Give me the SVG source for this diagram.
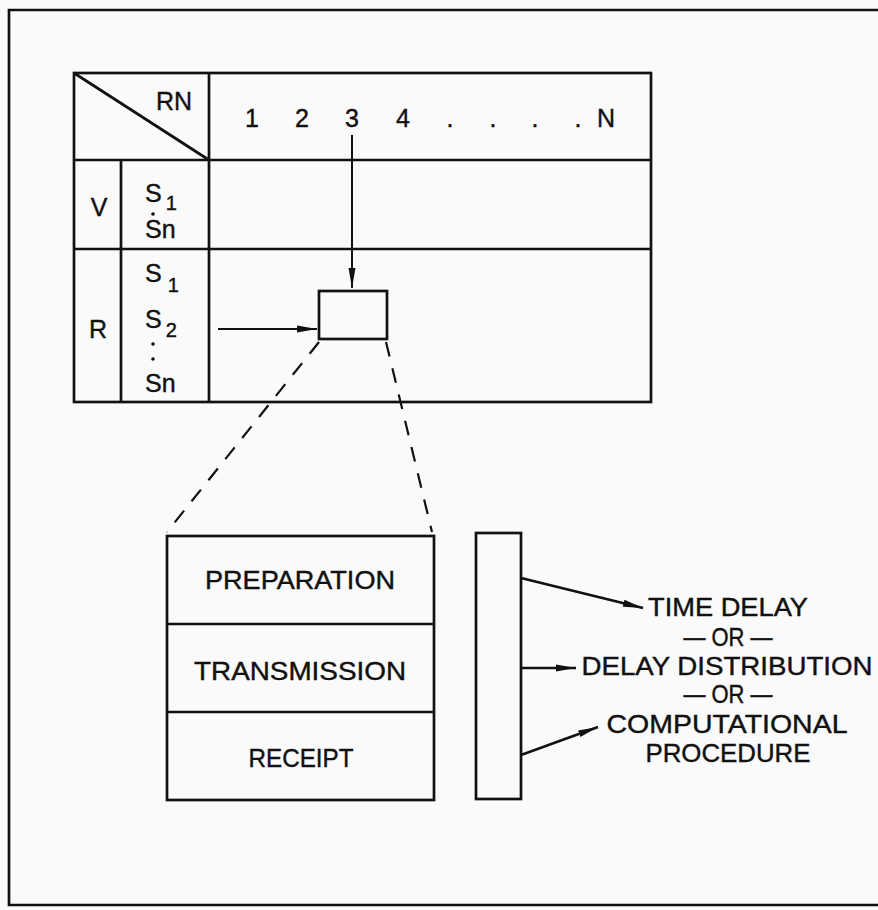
<svg xmlns="http://www.w3.org/2000/svg" width="878" height="910" viewBox="0 0 878 910">
<defs>
<style>
.ln{stroke:#111;stroke-width:2.7;fill:none}
.th{stroke:#111;stroke-width:2;fill:none}
.ds{stroke:#111;stroke-width:2.2;fill:none;stroke-dasharray:15 12}
text{font-family:"Liberation Sans",Arial,sans-serif;fill:#111;stroke:#111;stroke-width:0.4}
.t{font-size:25px}
.m{text-anchor:middle}
.dot{fill:#111}
</style>
<marker id="ah" viewBox="0 0 20 10" refX="20" refY="5" markerWidth="20" markerHeight="10" markerUnits="userSpaceOnUse" orient="auto">
<path d="M0,1.5 L20,5 L0,8.5 Z" fill="#111"/>
</marker>
</defs>
<rect width="878" height="910" fill="#fafafa"/>
<g id="frame"><path class="ln" d="M890,10 L9,10 L9,905 L890,905"/></g>
<g id="table">
<rect class="ln" x="74" y="73" width="577" height="329"/>
<line class="ln" x1="74" y1="160" x2="651" y2="160"/>
<line class="ln" x1="74" y1="249" x2="651" y2="249"/>
<line class="ln" x1="121" y1="160" x2="121" y2="402"/>
<line class="ln" x1="209" y1="73" x2="209" y2="402"/>
<line class="ln" x1="74" y1="73" x2="209" y2="160"/>
<text class="t" x="156" y="110">RN</text>
<text class="t m" x="252" y="127">1</text>
<text class="t m" x="302" y="127">2</text>
<text class="t m" x="352" y="127">3</text>
<text class="t m" x="403" y="127">4</text>
<text class="t m" x="450" y="127">.</text>
<text class="t m" x="493" y="127">.</text>
<text class="t m" x="535" y="127">.</text>
<text class="t m" x="578" y="127">.</text>
<text class="t m" x="606" y="127">N</text>
<text class="t m" x="99" y="216">V</text>
<text class="t" x="145" y="202">S<tspan dx="4" dy="8" font-size="20">1</tspan></text>
<circle class="dot" cx="153" cy="214" r="1.8"/>
<text class="t" x="145" y="238">Sn</text>
<text class="t m" x="98" y="338">R</text>
<text class="t" x="145" y="282">S<tspan dx="6" dy="10" font-size="20">1</tspan></text>
<text class="t" x="145" y="328">S<tspan dx="4" dy="9" font-size="20">2</tspan></text>
<circle class="dot" cx="153" cy="344" r="1.8"/>
<circle class="dot" cx="153" cy="359" r="1.8"/>
<text class="t" x="145" y="392">Sn</text>
</g>
<g id="cell"><rect class="ln" x="319" y="291" width="68" height="48"/></g>
<g id="stack">
<rect class="ln" x="167" y="536" width="267" height="264"/>
<line class="ln" x1="167" y1="624" x2="434" y2="624"/>
<line class="ln" x1="167" y1="712" x2="434" y2="712"/>
<text class="t m" x="300" y="589" textLength="190" lengthAdjust="spacingAndGlyphs">PREPARATION</text>
<text class="t m" x="300" y="680" textLength="212" lengthAdjust="spacingAndGlyphs">TRANSMISSION</text>
<text class="t m" x="301" y="767" textLength="105" lengthAdjust="spacingAndGlyphs">RECEIPT</text>
</g>
<g id="bar"><rect class="ln" x="476" y="533" width="45" height="266"/></g>
<g id="outcomes">
<text class="t m" x="728" y="616" textLength="160" lengthAdjust="spacingAndGlyphs">TIME DELAY</text>
<text class="t m" x="728" y="646" textLength="89" lengthAdjust="spacingAndGlyphs">— OR —</text>
<text class="t m" x="727" y="675" textLength="291" lengthAdjust="spacingAndGlyphs">DELAY DISTRIBUTION</text>
<text class="t m" x="728" y="703" textLength="89" lengthAdjust="spacingAndGlyphs">— OR —</text>
<text class="t m" x="727" y="733" textLength="241" lengthAdjust="spacingAndGlyphs">COMPUTATIONAL</text>
<text class="t m" x="728" y="762" textLength="165" lengthAdjust="spacingAndGlyphs">PROCEDURE</text>
</g>
<g id="connectors">
<line class="th" x1="352" y1="135" x2="352" y2="288" marker-end="url(#ah)"/>
<line class="th" x1="218" y1="329" x2="317" y2="329" marker-end="url(#ah)"/>
<line class="ds" x1="319" y1="342" x2="167" y2="532"/>
<line class="ds" x1="386" y1="342" x2="432" y2="532"/>
<line class="ln" x1="521" y1="578" x2="643" y2="608" marker-end="url(#ah)"/>
<line class="ln" x1="521" y1="668" x2="576" y2="668" marker-end="url(#ah)"/>
<line class="ln" x1="521" y1="755" x2="598" y2="727" marker-end="url(#ah)"/>
</g>
</svg>
